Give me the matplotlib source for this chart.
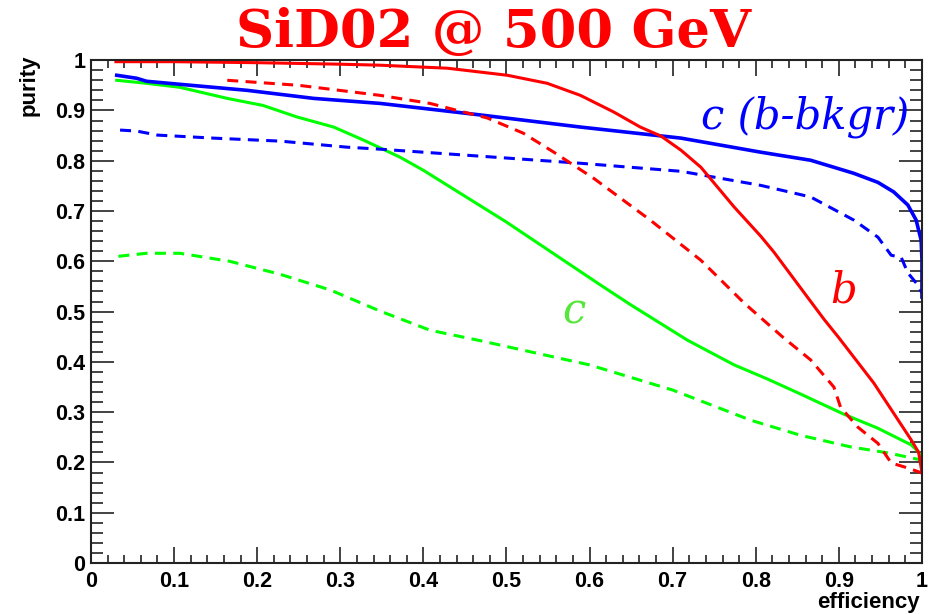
import matplotlib
matplotlib.use("Agg")
import matplotlib.pyplot as plt
from matplotlib.ticker import MultipleLocator

# b-tag purity vs efficiency (solid / dashed = two samples)
b_solid_x = [0.03, 0.1, 0.2, 0.3, 0.348, 0.429, 0.501, 0.549, 0.589, 0.629, 0.661, 0.686,
             0.71, 0.734, 0.774, 0.806, 0.822, 0.863, 0.882, 0.9, 0.942, 0.987, 0.996, 1.0]
b_solid_y = [0.997, 0.997, 0.995, 0.992, 0.99, 0.984, 0.97, 0.954, 0.93, 0.897, 0.867, 0.849,
             0.821, 0.787, 0.708, 0.65, 0.618, 0.527, 0.485, 0.448, 0.358, 0.245, 0.22, 0.18]
b_dash_x = [0.164, 0.25, 0.348, 0.408, 0.448, 0.477, 0.52, 0.557, 0.605, 0.673, 0.734,
            0.786, 0.832, 0.866, 0.894, 0.902, 0.923, 0.947, 0.963, 0.983, 1.0]
b_dash_y = [0.96, 0.95, 0.93, 0.914, 0.897, 0.885, 0.855, 0.817, 0.765, 0.682, 0.602,
            0.517, 0.45, 0.404, 0.35, 0.31, 0.27, 0.238, 0.199, 0.189, 0.179]

# c-tag with b background
cb_solid_x = [0.031, 0.055, 0.067, 0.107, 0.188, 0.268, 0.348, 0.469, 0.589, 0.71, 0.806,
              0.866, 0.918, 0.947, 0.966, 0.983, 0.993, 0.999, 1.0, 1.0]
cb_solid_y = [0.97, 0.964, 0.958, 0.952, 0.94, 0.924, 0.914, 0.891, 0.867, 0.845, 0.817,
              0.801, 0.775, 0.757, 0.738, 0.712, 0.682, 0.642, 0.602, 0.529]
cb_dash_x = [0.035, 0.055, 0.08, 0.147, 0.228, 0.308, 0.348, 0.469, 0.589, 0.71, 0.806,
             0.866, 0.918, 0.947, 0.963, 0.975, 0.983, 0.995, 1.0]
cb_dash_y = [0.861, 0.859, 0.851, 0.845, 0.839, 0.827, 0.823, 0.809, 0.795, 0.779, 0.751,
             0.728, 0.682, 0.648, 0.612, 0.608, 0.577, 0.553, 0.537]

# c-tag
c_solid_x = [0.031, 0.067, 0.107, 0.164, 0.207, 0.248, 0.292, 0.328, 0.372, 0.4, 0.5,
             0.613, 0.65, 0.718, 0.774, 0.814, 0.854, 0.906, 0.947, 0.987, 0.996, 1.0]
c_solid_y = [0.96, 0.954, 0.946, 0.924, 0.91, 0.887, 0.867, 0.841, 0.807, 0.781, 0.678,
             0.553, 0.513, 0.443, 0.394, 0.366, 0.336, 0.296, 0.268, 0.235, 0.221, 0.199]
c_dash_x = [0.033, 0.067, 0.107, 0.167, 0.228, 0.288, 0.348, 0.408, 0.469, 0.529, 0.6,
            0.7, 0.794, 0.854, 0.914, 0.959, 0.999]
c_dash_y = [0.61, 0.616, 0.616, 0.6, 0.574, 0.543, 0.501, 0.463, 0.442, 0.42, 0.394,
            0.344, 0.284, 0.254, 0.231, 0.219, 0.205]

red, blue, green = "#ff0000", "#0000ff", "#00ff00"
lw = 2.2
dash = (0, (3.6, 2.4))

fig = plt.figure(figsize=(9.36, 6.14), dpi=100)
ax = fig.add_axes([0.0972, 0.083, 0.8878, 0.819])

ax.plot(c_dash_x, c_dash_y, color=green, lw=lw, ls=dash)
ax.plot(c_solid_x, c_solid_y, color=green, lw=lw)
ax.plot(cb_dash_x, cb_dash_y, color=blue, lw=lw, ls=dash)
ax.plot(cb_solid_x, cb_solid_y, color=blue, lw=lw + 0.4)
ax.plot(b_dash_x, b_dash_y, color=red, lw=lw, ls=dash)
ax.plot(b_solid_x, b_solid_y, color=red, lw=lw)

ax.set_xlim(0, 1)
ax.set_ylim(0, 1)
ax.xaxis.set_major_locator(MultipleLocator(0.1))
ax.xaxis.set_minor_locator(MultipleLocator(0.02))
ax.yaxis.set_major_locator(MultipleLocator(0.1))
ax.yaxis.set_minor_locator(MultipleLocator(0.02))
ax.xaxis.set_major_formatter(lambda v, p: "%g" % round(v, 2))
ax.yaxis.set_major_formatter(lambda v, p: "%g" % round(v, 2))

for s in ax.spines.values():
    s.set_linewidth(1.5)
    s.set_color("#222222")
ax.tick_params(which="both", direction="in", top=True, right=True, color="#222222", width=1.2)
ax.tick_params(axis="x", which="major", length=11.5, pad=6)
ax.tick_params(axis="x", which="minor", length=5.8)
ax.tick_params(axis="y", which="major", length=16.5, pad=4)
ax.tick_params(axis="y", which="minor", length=8.6)
for lab in ax.get_xticklabels() + ax.get_yticklabels():
    lab.set_fontfamily("Liberation Sans")
    lab.set_fontweight("bold")
    lab.set_fontsize(15.5)

fig.text(0.031, 0.912, "purity", rotation=90, ha="center", va="top",
         family="Liberation Sans", weight="bold", fontsize=16)
fig.text(0.983, 0.018, "efficiency", ha="right", va="center",
         family="Liberation Sans", weight="bold", fontsize=16)

fig.text(0.527, 0.947, "SiD02 @ 500 GeV", ha="center", va="center", color=red,
         family="DejaVu Serif", weight="bold", fontsize=38)

ax.text(0.734, 0.865, "c (b-bkgr)", color=blue, family="DejaVu Serif", style="italic",
        fontsize=30)
ax.text(0.89, 0.519, "b", color=red, family="DejaVu Serif", style="italic", fontsize=30)
ax.text(0.567, 0.477, "c", color="#55e63a", family="DejaVu Serif", style="italic", fontsize=30)

fig.savefig("out.png", dpi=100)
